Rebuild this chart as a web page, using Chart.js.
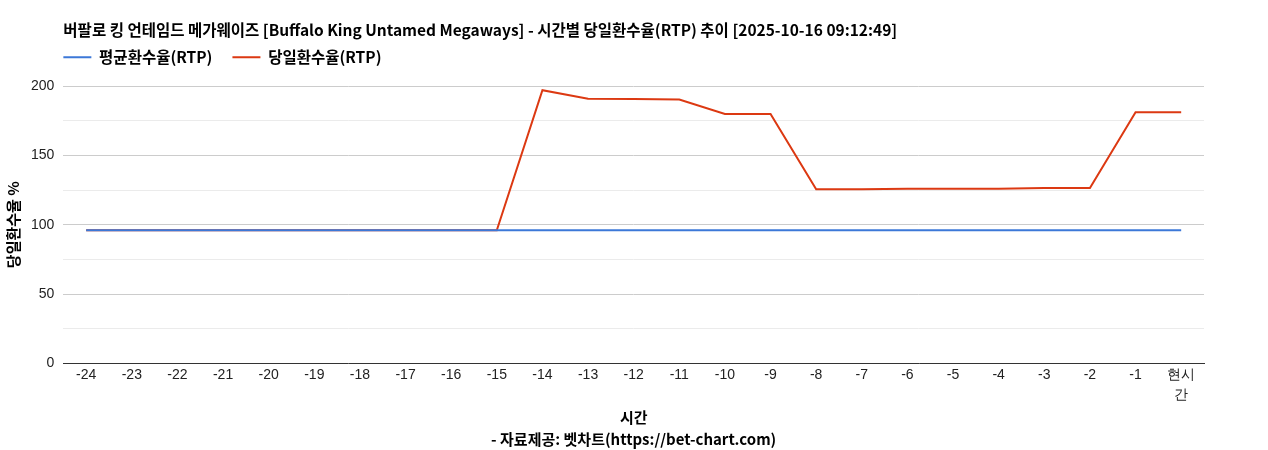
<!DOCTYPE html>
<html>
<head>
<meta charset="utf-8">
<script src="https://cdn.jsdelivr.net/npm/chart.js@4"></script>
<style>
  html, body { margin: 0; padding: 0; background: #fff; }
  #wrap { width: 1268px; height: 450px; }
</style>
</head>
<body>
<div id="wrap"><canvas id="rtp-chart"></canvas></div>
<script>
var hours = ['-24','-23','-22','-21','-20','-19','-18','-17','-16','-15','-14','-13','-12','-11','-10','-9','-8','-7','-6','-5','-4','-3','-2','-1',['현시','간']];
var avgRtp = [96,96,96,96,96,96,96,96,96,96,96,96,96,96,96,96,96,96,96,96,96,96,96,96,96];
var dayRtp = [96,96,96,96,96,96,96,96,96,96,197,190.8,190.7,190.3,179.9,179.9,125.6,125.6,126,126,126,126.4,126.4,181.2,181.2];
var yTicks = [0,50,100,150,200];

var krFont = '"Noto Sans CJK KR", "Noto Sans", sans-serif';
var numFont = '"Liberation Sans", Arial, sans-serif';

// legend: wide gap between items, but tight to title and flush with plot left edge
var legendPad = 20;
var legendFix = {
    id: 'legendFix',
    beforeInit: function(chart){
        var orig = chart.legend.fit;
        chart.legend.fit = function(){
            orig.bind(chart.legend)();
            this.height += 1;
        };
    },
    afterLayout: function(chart){
        var lg = chart.legend;
        lg.left -= legendPad;
        lg.right -= legendPad;
        lg.top -= 10;
        lg.bottom -= 10;
    }
};

var ctx = document.getElementById('rtp-chart');
new Chart(ctx, {
    type: 'line',
    data: {
        labels: hours,
        datasets: [{
            label: '평균환수율(RTP)',
            data: avgRtp,
            borderColor: '#3c78d8',
            backgroundColor: '#3c78d8',
            borderWidth: 2,
            pointRadius: 0,
            tension: 0
        },{
            label: '당일환수율(RTP)',
            data: dayRtp,
            borderColor: '#dc3912',
            backgroundColor: '#dc3912',
            borderWidth: 2,
            pointRadius: 0,
            tension: 0
        }]
    },
    plugins: [legendFix],
    options: {
        responsive: true,
        maintainAspectRatio: false,
        animation: false,
        layout: { padding: { top: 21, right: 64, bottom: 0, left: 4 } },
        plugins: {
            title: {
                display: true,
                fullSize: false,
                align: 'start',
                text: '버팔로 킹 언테임드 메가웨이즈 [Buffalo King Untamed Megaways] - 시간별 당일환수율(RTP) 추이 [2025-10-16 09:12:49]',
                color: '#000',
                font: { family: krFont, size: 15.5, weight: 'bold' },
                padding: { top: 0, bottom: 0 }
            },
            legend: {
                fullSize: false,
                align: 'start',
                labels: {
                    color: '#000',
                    font: { family: krFont, size: 15.5, weight: 'bold' },
                    boxWidth: 28,
                    boxHeight: 0,
                    padding: legendPad
                }
            },
            tooltip: { enabled: false }
        },
        scales: {
            x: {
                offset: true,
                grid: { display: false, drawTicks: false },
                border: { color: '#333', width: 1 },
                ticks: {
                    color: '#222',
                    font: { family: numFont, size: 14, lineHeight: 1.4 },
                    maxRotation: 0,
                    autoSkip: false,
                    padding: 2
                },
                title: {
                    display: true,
                    text: ['시간', '- 자료제공: 벳차트(https://bet-chart.com)'],
                    color: '#000',
                    font: { family: krFont, size: 15, weight: 'bold', lineHeight: 1.45 },
                    padding: { top: 0, bottom: 0 }
                }
            },
            y: {
                min: 0,
                max: 200,
                grid: {
                    color: function(c){ return c.tick && c.tick.value % 50 === 0 ? '#cccccc' : '#ebebeb'; },
                    drawTicks: false
                },
                border: { display: false },
                ticks: {
                    stepSize: 25,
                    color: '#222',
                    font: { family: numFont, size: 14 },
                    padding: 9,
                    callback: function(v){ return yTicks.indexOf(v) >= 0 ? v : ''; }
                },
                title: {
                    display: true,
                    text: '당일환수율 %',
                    color: '#000',
                    font: { family: krFont, size: 15, weight: 'bold' },
                    padding: { top: 0, bottom: 0 }
                }
            }
        }
    }
});
</script>
</body>
</html>
